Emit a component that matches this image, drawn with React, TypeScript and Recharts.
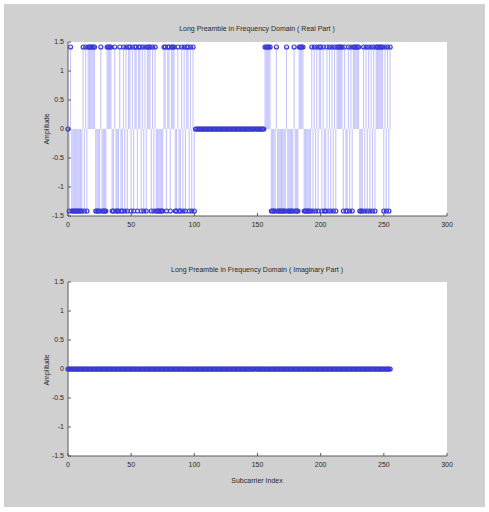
import React from 'react';
import { ComposedChart, Bar, Scatter, XAxis, YAxis, CartesianGrid } from 'recharts';

const REAL_SIGNS = [
    '0-+---------', // 0-11
    '+-+-+', // 12-16
    '+++++', // 17-21
    '----+---', // 22-29
    '-++++', // 30-34
    '--+---+--', // 35-43
    '+-+-++-+-+', // 44-53
    '+-++-+-+-', // 54-62
    '+++', // 63-65
    '-+-+-', // 66-70
    '-----', // 71-75
    '++-++-+++-', // 76-85
    '-+--', // 86-89
    '+-+-++-+-+-', // 90-100
    '0000000000000000000000000000000000000000000000000000000', // 101-155 guard band
    '+++++', // 156-160
    '----+-------+-----+---', // 161-182
    '++++', // 183-186
    '------', // 187-192
    '+-+-+-++-+-', // 193-203
    '-+-+-+-+-+', // 204-213
    '++++', // 214-217
    '-+--+-+-', // 218-225
    '+++++', // 226-230
    '---', // 231-233
    '+-+-+-+-+-+', // 234-244
    '+++++', // 245-249
    '-+-+-+', // 250-255
].join('');

const AMPLITUDE = 1.414;
const IMAG_VALUE = 0;

const X_TICKS = [0, 50, 100, 150, 200, 250, 300];
const Y_TICKS = [-1.5, -1, -0.5, 0, 0.5, 1, 1.5];

const realData = REAL_SIGNS.split('').map((s, i) => ({
    i,
    v: s === '+' ? AMPLITUDE : s === '-' ? -AMPLITUDE : 0,
}));
const imagData = REAL_SIGNS.split('').map((_, i) => ({ i, v: IMAG_VALUE }));

const FONT = '"Liberation Sans", Arial, sans-serif';
const AXIS_COLOR = '#5a5a5a';
const TEXT_COLOR = '#2a2a2a';

const Marker = (props: any) => {
    const { cx, cy } = props;
    if (cx == null || cy == null) return null;
    return <circle cx={cx} cy={cy} r={2} fill="none" stroke="#3838d4" strokeWidth={1.2} />;
};

const Subplot = ({ data }: { data: Array<{ i: number; v: number }> }) => (
    <ComposedChart
        width={489}
        height={250}
        data={data}
        margin={{ top: 42, right: 42, bottom: 20, left: 28 }}
        style={{ fontFamily: FONT }}
    >
        <CartesianGrid horizontal={false} vertical={false} fill="#ffffff" xAxisId="b" yAxisId="l" />
        <XAxis
            xAxisId="b"
            dataKey="i"
            type="number"
            domain={[0, 300]}
            ticks={X_TICKS}
            interval={0}
            orientation="bottom"
            height={14}
            tickSize={-3}
            tickMargin={9}
            stroke={AXIS_COLOR}
            tick={{ fill: TEXT_COLOR, fontSize: 7 }}
        />
        <XAxis
            xAxisId="t"
            dataKey="i"
            type="number"
            domain={[0, 300]}
            ticks={X_TICKS}
            interval={0}
            orientation="top"
            height={0}
            tickSize={-3}
            tick={false}
            stroke={AXIS_COLOR}
        />
        <YAxis
            yAxisId="l"
            type="number"
            domain={[-1.5, 1.5]}
            ticks={Y_TICKS}
            interval={0}
            width={40}
            tickSize={-3}
            tickMargin={7}
            stroke={AXIS_COLOR}
            tick={{ fill: TEXT_COLOR, fontSize: 7 }}
        />
        <YAxis
            yAxisId="r"
            orientation="right"
            type="number"
            domain={[-1.5, 1.5]}
            ticks={Y_TICKS}
            interval={0}
            width={0}
            tickSize={-3}
            tick={false}
            stroke={AXIS_COLOR}
        />
        <Bar
            xAxisId="b"
            yAxisId="l"
            dataKey="v"
            barSize={1.3}
            fill="#7070ff"
            fillOpacity={0.4}
            isAnimationActive={false}
        />
        <Scatter xAxisId="b" yAxisId="l" dataKey="v" shape={Marker} isAnimationActive={false} />
    </ComposedChart>
);

const textStyle: React.CSSProperties = {
    position: 'absolute',
    fontFamily: FONT,
    fontSize: 7,
    color: TEXT_COLOR,
    whiteSpace: 'nowrap',
    lineHeight: '8px',
};

export default function App() {
    return (
        <div style={{ position: 'absolute', left: 0, top: 0, width: 489, height: 512, background: '#ffffff' }}>
            <div style={{ position: 'absolute', left: 4, top: 4, width: 481, height: 503, background: '#d0d0d0' }} />
            <div style={{ position: 'absolute', left: 0, top: 0 }}>
                <Subplot data={realData} />
            </div>
            <div style={{ position: 'absolute', left: 0, top: 240 }}>
                <Subplot data={imagData} />
            </div>
            <div style={{ ...textStyle, left: 0, width: 514, top: 25, textAlign: 'center' }}>
                Long Preamble in Frequency Domain ( Real Part )
            </div>
            <div style={{ ...textStyle, left: 0, width: 514, top: 266, textAlign: 'center' }}>
                Long Preamble in Frequency Domain ( Imaginary Part )
            </div>
            <div style={{ ...textStyle, left: 0, width: 514, top: 477, textAlign: 'center' }}>
                Subcarrier Index
            </div>
            <div
                style={{
                    ...textStyle,
                    left: 47,
                    top: 129,
                    transform: 'translate(-50%, -50%) rotate(-90deg)',
                }}
            >
                Amplitude
            </div>
            <div
                style={{
                    ...textStyle,
                    left: 47,
                    top: 370,
                    transform: 'translate(-50%, -50%) rotate(-90deg)',
                }}
            >
                Amplitude
            </div>
        </div>
    );
}
